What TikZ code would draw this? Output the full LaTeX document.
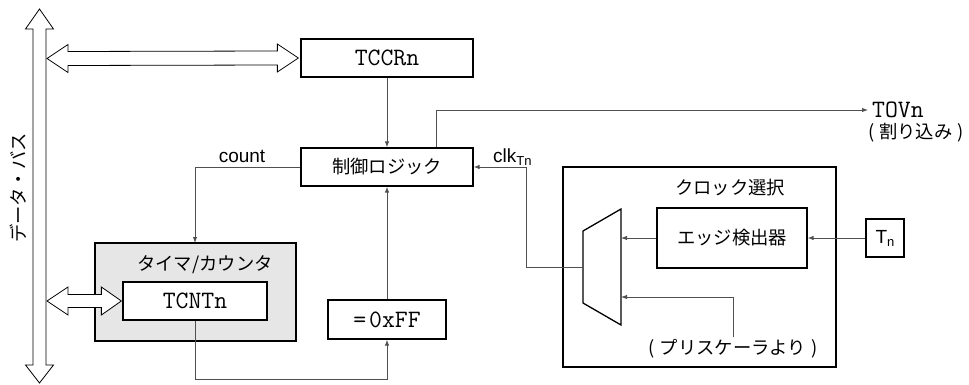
\documentclass[tikz,border=0pt]{standalone}
\usepackage{fontspec}
\setmainfont{Liberation Sans}
\newfontfamily\jp{Noto Sans CJK JP}
\usetikzlibrary{arrows.meta,calc}

\definecolor{wire}{HTML}{505050}
\definecolor{shade}{HTML}{E6E6E6}

\tikzset{
  blk/.style={draw=black,line width=1.3pt,fill=white,inner sep=0pt},
  wirel/.style={draw=wire,line width=0.9pt},
  arr/.style={wirel,-{Latex[length=6pt,width=4.5pt]}},
  bus/.style={draw=black,line width=0.8pt,fill=white,line join=miter},
  jtxt/.style={font=\jp\fontsize{18.3}{20}\selectfont,inner sep=0pt},
  ltxt/.style={font=\fontsize{19}{21}\selectfont,inner sep=0pt},
  ttxt/.style={font=\ttfamily\fontsize{25}{27}\selectfont,inner sep=0pt},
}

\newcommand{\subsc}[1]{{\fontsize{13}{13}\selectfont\raisebox{-3pt}{#1}}}

\begin{document}
\begin{tikzpicture}[x=1pt,y=-1pt]
\useasboundingbox (0,0) rectangle (969,385);

% ---- blocks ----
\node[blk,minimum width=172,minimum height=38] (tccr) at (387,58) {};
\node[ttxt] at (tccr) {TCCRn};

\node[blk,minimum width=172,minimum height=38] (ctrl) at (387,167) {};
\node[jtxt] at (ctrl) {制御ロジック};

\node[blk,fill=shade,minimum width=201,minimum height=98] (timer) at (195.5,292) {};
\node[jtxt] (timerlbl) at (205,265) {タイマ/カウンタ};
\node[blk,minimum width=144,minimum height=38] (tcnt) at (195,301) {};
\node[ttxt] at (tcnt) {TCNTn};

\node[blk,minimum width=118,minimum height=39] (cmp) at (387,319.5) {};
\node[ttxt] at (cmp) {=\hspace{3pt}0xFF};

\node[blk,minimum width=273,minimum height=200] (clksel) at (699.5,267) {};
\node[jtxt] (clksellbl) at (730,188) {クロック選択};

\node[blk,minimum width=150,minimum height=60] (edge) at (732,238) {};
\node[jtxt] at (edge) {エッジ検出器};

\node[blk,minimum width=38,minimum height=38] (tn) at (885,238) {};
\node[ltxt] at (tn) {T\subsc{n}};

% multiplexer
\coordinate (muxin) at (583,267);
\coordinate (muxa) at (621,238);
\coordinate (muxb) at (621,297);
\draw[black,line width=1.3pt,line join=miter]
  (583,231) -- (621,209) -- (621,325) -- (583,303) -- cycle;

% ---- labels ----
\node[ltxt] (countlbl) at (242,156) {count};
\node[ltxt,anchor=west] (clklbl) at (493,157) {clk\subsc{Tn}};
\node[ttxt,anchor=west] (tov) at (872,110) {TOVn};
\node[jtxt,anchor=west] (irq) at (868,133) {(\hspace{5pt}割り込み\hspace{5pt})};
\node[jtxt] (presc) at (733,349) {(\hspace{5pt}プリスケーラより\hspace{5pt})};
\node[jtxt,rotate=90] (buslbl) at (18,188) {データ・バス};

% ---- data bus (vertical double arrow) ----
\draw[bus] (39.5,9) -- (53.5,29) -- (46,29) -- (46,365) -- (53.5,365)
  -- (39.5,383) -- (25.5,365) -- (33,365) -- (33,29) -- (25.5,29) -- cycle;

% bus <-> TCCRn
\draw[bus] (47,58.5) -- (68,44.5) -- (68,51.5) -- ($(tccr.west)+(-23,-7)$)
  -- ($(tccr.west)+(-23,-14)$) -- ($(tccr.west)+(-2,0)$)
  -- ($(tccr.west)+(-23,14)$) -- ($(tccr.west)+(-23,7)$)
  -- (68,65.5) -- (68,72.5) -- cycle;

% bus <-> TCNTn
\draw[bus] (47,301) -- (68,287) -- (68,294.5) -- ($(tcnt.west)+(-21,-6.5)$)
  -- ($(tcnt.west)+(-21,-14)$) -- ($(tcnt.west)+(-1,0)$)
  -- ($(tcnt.west)+(-21,14)$) -- ($(tcnt.west)+(-21,6.5)$)
  -- (68,307.5) -- (68,315) -- cycle;

% ---- connectors ----
\draw[arr] (tccr.south) -- (ctrl.north);
\draw[arr] (cmp.north) -- (ctrl.south);
\draw[arr] (ctrl.west) -| (195,243);
\draw[arr] (tcnt.south) -- (195,379) -| (cmp.south);
\draw[arr] ($(ctrl.north west)+(136,0)$) |- ($(tov.west)+(-4,0)$);
\draw[arr] (muxin) -- (526,267) |- (ctrl.east);
\draw[arr] (tn.west) -- (edge.east);
\draw[arr] (edge.west) -- (muxa);
\draw[arr] (presc.north -| 733,0) ++(0,-2) |- (muxb);
\end{tikzpicture}
\end{document}
